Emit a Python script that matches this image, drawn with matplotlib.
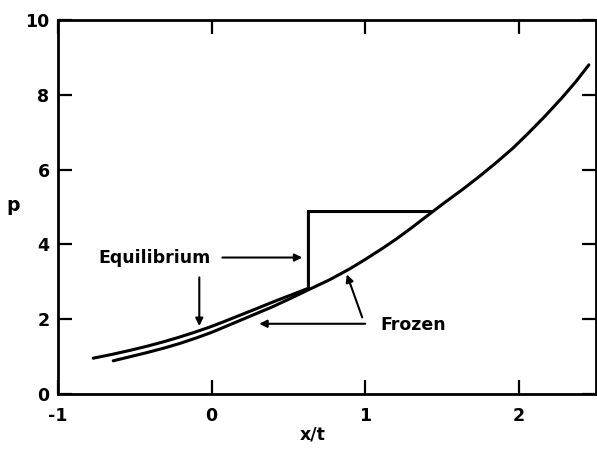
import matplotlib
matplotlib.use("Agg")
import matplotlib.pyplot as plt

# Frozen curve
frozen_x = [-0.64, -0.53, -0.42, -0.31, -0.21, -0.10, 0.0, 0.07, 0.18, 0.29, 0.40, 0.52, 0.636,
            0.77, 0.90, 1.00, 1.11, 1.20, 1.29, 1.43, 1.52, 1.63, 1.74, 1.85, 1.96, 2.06,
            2.17, 2.28, 2.37, 2.455]
frozen_p = [0.89, 1.00, 1.11, 1.23, 1.35, 1.50, 1.65, 1.77, 1.96, 2.15, 2.34, 2.57, 2.80,
            3.06, 3.35, 3.60, 3.89, 4.14, 4.41, 4.85, 5.13, 5.46, 5.81, 6.18, 6.57, 6.97,
            7.43, 7.92, 8.35, 8.80]

# Equilibrium curve, with shock (vertical jump and plateau)
equil_x = [-0.77, -0.65, -0.53, -0.42, -0.32, -0.22, -0.12, -0.02, 0.07, 0.18, 0.29,
           0.38, 0.46, 0.55, 0.63, 0.63, 1.43]
equil_p = [0.96, 1.06, 1.17, 1.28, 1.39, 1.51, 1.64, 1.78, 1.92, 2.10, 2.28,
           2.43, 2.56, 2.70, 2.83, 4.88, 4.88]

xticks = [-1, 0, 1, 2]
xticklabels = ["-1", "0", "1", "2"]
yticks = [0, 2, 4, 6, 8, 10]
yticklabels = ["0", "2", "4", "6", "8", "10"]

plt.rcParams['font.family'] = ['DejaVu Sans']
plt.rcParams['font.weight'] = 'bold'

fig = plt.figure(figsize=(5.97, 4.53), dpi=100)
ax = fig.add_axes([0.097, 0.130, 0.901, 0.826])

ax.plot(frozen_x, frozen_p, color='black', lw=2.2, solid_capstyle='round', solid_joinstyle='round')
ax.plot(equil_x, equil_p, color='black', lw=2.2, solid_capstyle='round', solid_joinstyle='miter')

ax.set_xlim(-1, 2.5)
ax.set_ylim(0, 10)
ax.set_xticks(xticks)
ax.set_xticklabels(xticklabels, fontsize=12.5, fontweight='bold')
ax.set_yticks(yticks)
ax.set_yticklabels(yticklabels, fontsize=12.5, fontweight='bold')
ax.tick_params(direction='in', length=10, width=1.6, top=True, right=True)
ax.tick_params(axis='x', pad=9)
ax.tick_params(axis='y', pad=6)
for s in ax.spines.values():
    s.set_linewidth(2.0)

ax.set_xlabel("x/t", fontsize=12.5, fontweight='bold')
ax.xaxis.set_label_coords(0.474, -0.085)
ax.set_ylabel("p", fontsize=13.5, fontweight='bold', rotation=0, va='center', ha='center')
ax.yaxis.set_label_coords(-0.084, 0.505)

arrow = dict(arrowstyle='-|>', color='black', lw=1.5, mutation_scale=11, shrinkA=0, shrinkB=0)
ax.text(-0.37, 3.65, "Equilibrium", fontsize=12.5, fontweight='bold', ha='center', va='center')
ax.annotate("", xy=(0.59, 3.65), xytext=(0.07, 3.65), arrowprops=arrow)
ax.annotate("", xy=(-0.08, 1.82), xytext=(-0.08, 3.12), arrowprops=arrow)

ax.text(1.31, 1.84, "Frozen", fontsize=12.5, fontweight='bold', ha='center', va='center')
ax.annotate("", xy=(0.31, 1.88), xytext=(1.0, 1.88), arrowprops=arrow)
ax.annotate("", xy=(0.88, 3.20), xytext=(0.98, 2.05), arrowprops=arrow)

fig.savefig("out.png", dpi=100)
